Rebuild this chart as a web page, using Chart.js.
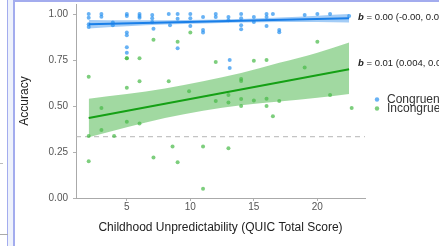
<!DOCTYPE html>
<html><head><meta charset="utf-8">
<script src="https://cdn.jsdelivr.net/npm/chart.js@4/dist/chart.umd.min.js"></script>
<style>
html,body{margin:0;padding:0;background:#fff;width:439px;height:246px;overflow:hidden;position:relative}
.f{position:absolute}
canvas{position:absolute;left:0;top:0}
</style></head><body>
<div class="f" style="left:8px;top:0;width:5px;height:246px;background:#eef2fc"></div>
<div class="f" style="left:7px;top:0;width:1px;height:246px;background:#a3acee"></div>
<div class="f" style="left:13px;top:0;width:2px;height:246px;background:#a3acee"></div>
<div class="f" style="left:13px;top:0;width:426px;height:2px;background:#a3acee"></div>
<div class="f" style="left:0;top:163px;width:3px;height:1px;background:#bbb"></div>
<div class="f" style="left:0;top:234px;width:8px;height:1px;background:#aaa"></div>
<canvas id="c" width="439" height="246"></canvas>
<script>
// ---- data ----
const seriesNames = ['Congruent', 'Incongruent'];
const congX = [2,2,2,2, 3,3, 3.9,3.9, 5,5,5,5,5,5, 6,6,6, 7,7,7,7.1, 8.3,8.4, 9,9,9, 10,10,10, 11,11,11, 12,12, 13,13,13.1,13.1, 14,14,14,14, 15,15, 16,16,16, 16.5, 17,17, 19, 20, 21, 22.5];
const congY = [1.0,0.98,0.945,0.93, 1.0,0.985, 0.955,0.94, 1.0,0.99,0.90,0.885,0.82,0.79, 1.0,0.99,0.98, 0.995,0.978,0.957,0.92, 1.0,0.94, 1.0,0.975,0.815, 1.0,0.978,0.935, 0.984,0.913,0.90, 1.0,0.984, 0.984,0.967,0.75,0.707, 1.0,0.978,0.94,0.918, 0.984,0.957, 1.0,0.984,0.935, 1.0, 0.913,0.902, 0.995, 1.0, 1.0, 0.99];
const incX = [2,2,2, 3,3, 4, 5,5,5,5, 6,6,6, 7.1,7.1, 8.3,8.6, 9,9, 10,9.9, 11,11, 12,12, 13,13,13, 14,14,14,14, 15,15, 16,16,16, 16.5, 17, 19, 20, 21, 22.7];
const incY = [0.66,0.337,0.20, 0.49,0.37, 0.337, 0.76,0.76,0.60,0.415, 0.76,0.635,0.405, 0.86,0.22, 0.635,0.28, 0.85,0.195, 0.90,0.58, 0.28,0.05, 0.74,0.527, 0.56,0.52,0.27, 0.647,0.636,0.538,0.50, 0.746,0.53, 0.75,0.54,0.50, 0.445, 0.527, 0.71, 0.85, 0.56, 0.49];
const fitX = [2, 22.5];
const congFit = [0.945, 0.977];
const incFit = [0.435, 0.70];
const bandX = [2, 5, 8, 11, 14, 17, 20, 22.5];
const congUpper = [0.968, 0.966, 0.967, 0.969, 0.974, 0.981, 0.991, 1.0];
const congLower = [0.922, 0.934, 0.943, 0.949, 0.954, 0.957, 0.957, 0.954];
const incUpper = [0.54, 0.565, 0.595, 0.635, 0.68, 0.735, 0.79, 0.845];
const incLower = [0.33, 0.385, 0.435, 0.475, 0.505, 0.525, 0.545, 0.565];
const chanceLevel = [1/3];
const xRange = [1.0, 23.75];
const yRange = [0, 1.055];
const xTicks = [5, 10, 15, 20];
const yTicks = [0, 0.25, 0.5, 0.75, 1.0];
const slopeLabels = ['0.00 (-0.00, 0.00)', '0.01 (0.004, 0.02)'];
const labelAnchorX = [23.2, 23.2];
const labelAnchorY = [0.984, 0.73];

const FONT = '"Liberation Sans", Arial, sans-serif';
const pointColors = ['rgba(40,145,240,0.7)', 'rgba(70,185,70,0.7)'];
const lineColors = ['#1a7fe8', '#15a015'];
const bandColors = ['rgba(26,127,232,0.4)', 'rgba(21,160,21,0.4)'];
const zip = (xs, ys) => xs.map((x, i) => ({x, y: ys[i]}));

const bandDs = (data, fill, color) => ({type:'line', data, fill, backgroundColor: color, borderWidth:0, pointRadius:0, cubicInterpolationMode:'monotone', order:3});

const overlay = {
  id: 'overlay',
  afterDatasetsDraw(chart) {
    const {ctx, chartArea: a, scales: {x, y}} = chart;
    ctx.save();
    ctx.textBaseline = 'middle'; ctx.textAlign = 'left';
    slopeLabels.forEach((t, i) => {
      const px = x.getPixelForValue(labelAnchorX[i]), py = y.getPixelForValue(labelAnchorY[i]);
      ctx.fillStyle = '#222';
      ctx.font = 'italic bold 9.5px ' + FONT;
      ctx.fillText('b', px, py);
      const w = ctx.measureText('b').width;
      ctx.font = '9.5px ' + FONT;
      ctx.fillText(' = ' + t, px + w, py);
    });
    seriesNames.forEach((n, i) => {
      const lx = a.right + 12, ly = a.top + 95.5 + i * 9;
      ctx.fillStyle = pointColors[i];
      ctx.beginPath(); ctx.arc(lx, ly, 2.2, 0, Math.PI * 2); ctx.fill();
      ctx.fillStyle = '#333'; ctx.font = '12px ' + FONT;
      ctx.fillText(n, lx + 10, ly);
    });
    ctx.restore();
  }
};

new Chart(document.getElementById('c'), {
  type: 'scatter',
  data: {
    datasets: [
      bandDs(zip(bandX, congUpper), '+1', bandColors[0]),
      bandDs(zip(bandX, congLower), false, bandColors[0]),
      bandDs(zip(bandX, incUpper), '+1', bandColors[1]),
      bandDs(zip(bandX, incLower), false, bandColors[1]),
      {type:'line', data: [{x: xRange[0], y: chanceLevel[0]}, {x: xRange[1], y: chanceLevel[0]}], borderColor:'#b5b5b5', borderWidth:1, borderDash:[5,4], pointRadius:0, fill:false, order:4},
      {type:'scatter', label: seriesNames[0], data: zip(congX, congY), backgroundColor: pointColors[0], borderWidth:0, pointRadius:2, order:1},
      {type:'scatter', label: seriesNames[1], data: zip(incX, incY), backgroundColor: pointColors[1], borderWidth:0, pointRadius:2, order:1},
      {type:'line', data: zip(fitX, congFit), borderColor: lineColors[0], borderWidth:2, pointRadius:0, fill:false, order:0},
      {type:'line', data: zip(fitX, incFit), borderColor: lineColors[1], borderWidth:2, pointRadius:0, fill:false, order:0}
    ]
  },
  options: {
    responsive: false, animation: false, devicePixelRatio: 1,
    layout: {padding: {top: 4, right: 74, left: 0, bottom: 0}},
    plugins: {legend: {display: false}, tooltip: {enabled: false}},
    scales: {
      x: {
        type: 'linear', min: xRange[0], max: xRange[1],
        grid: {display: true, drawOnChartArea: false, drawTicks: true, tickLength: 3, color: '#b0b0b0'},
        border: {display: true, color: '#aaaaaa', width: 1},
        ticks: {font: {size: 10, family: FONT}, color: '#555', padding: 0, autoSkip: false, maxRotation: 0},
        afterBuildTicks: s => { s.ticks = xTicks.map(v => ({value: v})); },
        afterFit: s => { s.height = 48; s.paddingLeft = 0; s.paddingRight = 0; },
        title: {display: true, text: 'Childhood Unpredictability (QUIC Total Score)', font: {size: 12, family: FONT}, color: '#222', padding: {top: 0, bottom: 11}}
      },
      y: {
        type: 'linear', min: yRange[0], max: yRange[1],
        grid: {display: true, drawOnChartArea: false, drawTicks: true, tickLength: 3, color: '#b0b0b0'},
        border: {display: true, color: '#aaaaaa', width: 1},
        ticks: {font: {size: 10, family: FONT}, color: '#555', padding: 5, callback: v => v.toFixed(2)},
        afterBuildTicks: s => { s.ticks = yTicks.map(v => ({value: v})); },
        afterFit: s => { s.width = 76; s.paddingTop = 0; s.paddingBottom = 0; },
        title: {display: true, text: 'Accuracy', font: {size: 12, family: FONT}, color: '#222', padding: {top: 17, bottom: 0}}
      }
    }
  },
  plugins: [overlay]
});
</script>
</body></html>
